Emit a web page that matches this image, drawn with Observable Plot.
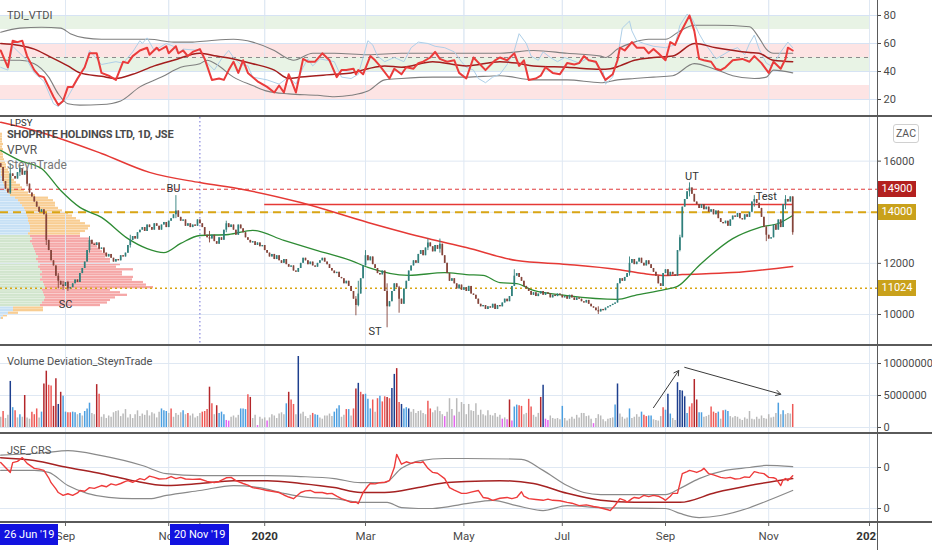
<!DOCTYPE html>
<html>
<head>
<meta charset="utf-8">
<script src="https://cdn.jsdelivr.net/npm/d3@7"></script>
<script src="https://cdn.jsdelivr.net/npm/@observablehq/plot@0.6"></script>
<style>
  html,body{margin:0;padding:0;background:#fff;}
  #chart{position:relative;width:932px;height:550px;overflow:hidden;background:#fff;font-family:Roboto,"DejaVu Sans",sans-serif;}
  #chart svg{position:absolute;left:0;}
  .t{position:absolute;white-space:nowrap;line-height:1;}
  .ln{position:absolute;background:#5a5a5a;}
  .box{position:absolute;color:#fff;font-size:11px;text-align:center;white-space:nowrap;}
</style>
</head>
<body>
<div id="chart"></div>
<script>
// ---------------- DATA ----------------
const startDate = "2019-07-23";
const calendarEnd = "2021-01-29";
const holidays = ["2019-08-09","2019-09-24","2019-12-16","2019-12-25","2019-12-26","2020-01-01","2020-04-10","2020-04-13","2020-04-27","2020-05-01","2020-06-16","2020-08-10","2020-09-24","2020-12-16","2020-12-25","2021-01-01"];
const tickMonths = ["2019-09","2019-11","2020-01","2020-03","2020-05","2020-07","2020-09","2020-11","2021-01"];
const tickLabels = ["Sep","Nov","2020","Mar","May","Jul","Sep","Nov","2021"];
const crosshairDate = "2019-11-20";
const crosshairLabel = "20 Nov '19";
const rangeStartLabel = "26 Jun '19";

const firstOpen = 16000;
const closes = [
15900,15750,15200,14900,14750,15500,15400,15300,15550,15700,
15450,15600,15100,14750,14600,14400,14200,14000,14100,13900,
12900,12500,12100,11900,11500,11300,11150,11100,11250,11000,
11050,11200,11350,11250,11600,11800,12050,12500,12900,12750,
12700,12800,12550,12600,12400,12250,12350,12200,12050,12150,
12100,12300,12250,12400,12700,12900,13050,12950,13200,13300,
13400,13250,13500,13400,13300,13550,13450,13300,13500,13600,
13400,13650,13750,13900,14050,13800,13650,13700,13450,13550,
13400,13500,13450,13700,13550,13400,13100,13000,12950,13100,
12850,12750,13000,12900,13300,13550,13400,13500,13300,13100,
13500,13350,13200,13000,12900,12800,12850,12700,12800,12650,
12700,12500,12400,12250,12350,12150,12300,12100,12000,12150,
11950,11850,11900,11700,11650,11800,12000,12200,12100,11950,
12050,11900,11850,12000,12100,12200,12050,11950,11800,11700,
11600,11650,11450,11400,11200,11300,11100,10900,10600,10350,
10800,11400,11900,12300,12100,12250,11950,11800,11600,11550,
11700,10900,10300,10500,10900,11200,11050,10600,10400,11000,
11300,11700,11900,12100,12000,12350,12500,12300,12600,12800,
12650,12450,12700,12550,12750,12300,12000,11600,11300,11400,
11200,11000,11150,10950,11050,10900,11100,10800,10750,10600,
10400,10300,10350,10200,10300,10250,10400,10200,10350,10300,
10450,10600,10500,10700,11100,11500,11600,11450,11300,11100,
11000,10900,10750,10850,10700,10800,10900,10750,10850,10800,
10650,10750,10700,10800,10750,10650,10700,10600,10750,10650,
10550,10650,10600,10500,10450,10550,10400,10300,10250,10150,
10100,10200,10150,10250,10300,10350,10400,10450,11200,11400,
11300,11450,11600,12000,12150,11950,12050,12200,12000,11900,
12100,11950,11800,11650,11500,11200,11100,11600,11750,11500,
11650,11550,11500,12500,13000,14200,14500,14800,14950,14700,
14400,14300,14150,14300,14100,14200,14000,14100,13900,14050,
13750,13600,13550,13650,13450,13700,13850,13800,13950,13750,
13700,13900,13800,14000,14400,14500,14350,14150,13800,13400,
13100,12950,13000,13500,13300,13700,13400,14300,14500,14400,
14600,13200];
// [bar, low, high] for visible wicks
const wicks = [[0,15700,16150],[5,14700,15900],[9,15400,15850],[12,15000,15700],[20,12700,13950],[25,11000,11600],[27,10950,11300],[29,10900,11300],[38,12400,13050],[55,12600,13100],[74,13750,14650],[88,12800,13250],[95,13200,13650],[149,9950,10700],[150,10300,11300],[153,11900,12500],[162,9480,11200],[167,10050,11100],[179,12500,12950],[184,12400,12950],[215,11100,11750],[250,10000,10300],[263,11500,12250],[284,12450,13100],[288,14600,15150],[315,14200,14650],[320,12850,13450],[328,14100,14650],[331,13100,14600]];
const ma200 = [[1,17520],[15,17200],[43,16300],[63,15560],[84,15160],[102,14890],[126,14380],[154,13600],[179,12970],[195,12620],[216,12110],[237,11960],[258,11760],[269,11600],[278,11530],[285,11560],[306,11640],[331,11880]];
const ma50 = [[1,16420],[9,16020],[18,15710],[26,14850],[34,14190],[43,13800],[54,12970],[62,12580],[69,12420],[76,12780],[84,13090],[96,13130],[106,13290],[119,12900],[133,12500],[147,12110],[154,11840],[171,11530],[186,11640],[195,11560],[202,11530],[209,11250],[216,11210],[223,10940],[237,10740],[258,10590],[265,10740],[278,10980],[283,11100],[292,11920],[306,12970],[317,13400],[326,13600],[331,13870]];
const levelRed = 14900, levelGold = 14000, levelPoc = 11024;
const resistance = {from: 111, to: 331, price: 14300};
const annotations = [{t:"BU",i:73,p:14920},{t:"SC",i:28,p:10390},{t:"ST",i:157,p:9335},{t:"UT",i:289,p:15400},{t:"Test",i:320,p:14620}];
// Volume profile (VPVR): rows of 100 from 9800
const vpStart = 9800, vpStep = 100, vaLow = 10300, vaHigh = 13100;
const vpUp = [1,3,8,13,13,40,42,44,45,44,43,42,45,44,43,40,42,40,42,40,38,40,38,36,38,36,35,34,33,32,30,32,30,28,30,30,30,29,28,28,27,26,25,24,22,20,18,15,10,8,6,5,4,3,2,2,1,1,1,0,0,0,0,0,0,0,0,0,0,0,0,0,0];
const vpDn = [2,4,10,30,30,60,65,66,70,83,77,68,108,102,100,92,91,82,80,93,78,80,72,74,67,71,67,66,64,65,62,58,50,52,55,58,60,56,52,48,45,42,37,34,33,35,35,33,25,20,18,17,16,13,12,10,9,8,7,6,6,5,4,3,3,2,3,2,3,2,2,2,2];

// TDI (bar, value)
const tdiZones = [[70,80,"up"],[50,60,"dn"],[40,50,"up"],[20,30,"dn"]];
const tdiPrice = [[1,55],[4,43],[6,62],[8,61],[10,62],[12,51],[15,41],[17,37],[19,36],[21,29],[23,22],[25,16],[27,19],[29,29],[31,29],[33,35],[36,43],[38,53],[41,53],[43,39],[46,37],[49,34],[52,47],[54,46],[56,51],[59,55],[62,57],[63,52],[66,57],[67,55],[70,58],[71,53],[74,58],[75,53],[77,55],[79,51],[81,54],[84,56],[86,49],[89,34],[92,35],[94,34],[96,41],[98,47],[100,39],[102,48],[104,39],[108,33],[112,29],[115,25],[117,30],[119,25],[121,38],[122,34],[124,25],[127,49],[129,47],[132,47],[135,53],[138,48],[141,36],[143,41],[145,41],[148,42],[149,38],[150,41],[152,38],[155,51],[157,48],[159,44],[163,35],[165,42],[168,38],[170,43],[173,42],[175,46],[177,47],[180,50],[182,54],[184,49],[187,47],[190,48],[192,39],[195,35],[198,50],[203,41],[207,48],[209,50],[212,48],[215,53],[217,44],[219,48],[221,34],[224,35],[226,37],[228,43],[231,39],[234,38],[237,46],[240,45],[242,46],[244,51],[246,48],[249,47],[252,37],[253,34],[256,38],[258,48],[259,57],[261,55],[264,61],[266,57],[269,57],[271,53],[273,56],[275,53],[278,48],[280,61],[282,59],[284,67],[288,80],[290,69],[292,49],[294,48],[297,47],[299,42],[301,41],[303,43],[306,48],[310,49],[313,47],[315,51],[318,46],[321,39],[323,47],[326,42],[328,49],[329,57],[331,55]];
const tdiRsi = [[1,43],[4,41],[6,58],[12,48],[15,39],[19,33],[23,17],[25,15],[29,22],[36,43],[38,55],[43,45],[46,46],[49,47],[52,46],[56,54],[59,62],[60,60],[62,64],[65,55],[70,60],[73,58],[75,53],[77,56],[84,55],[86,48],[90,41],[93,49],[96,55],[98,50],[101,45],[104,44],[106,36],[112,34],[117,31],[121,36],[124,31],[127,43],[129,49],[131,44],[134,49],[140,47],[143,36],[147,35],[150,38],[154,62],[156,59],[158,51],[161,47],[165,50],[169,47],[172,57],[175,61],[179,60],[182,58],[186,57],[190,54],[193,47],[195,43],[198,41],[200,35],[203,32],[206,36],[209,38],[212,45],[215,55],[217,67],[220,60],[222,51],[225,48],[227,54],[230,50],[233,47],[236,50],[239,48],[242,46],[245,49],[249,46],[252,40],[253,31],[256,36],[258,50],[260,71],[263,76],[264,69],[266,62],[269,60],[273,58],[278,57],[282,59],[284,73],[287,81],[289,78],[292,67],[294,61],[297,54],[299,49],[305,55],[308,57],[311,52],[313,60],[315,66],[317,56],[320,46],[322,44],[324,48],[326,54],[329,61],[331,57]];
const tdiUpper = [[1,68],[9,71],[18,71.6],[26,71],[30,67],[36,64],[43,63],[54,63],[63,63],[73,61],[81,61],[88,62],[98,63],[106,61],[115,55],[121,49],[123,48],[131,53],[140,53],[154,52],[168,53],[181,53],[195,53],[209,53],[223,55],[237,53],[251,51],[253,50],[258,56],[265,61],[271,63],[278,63],[284,69],[290,73],[299,73],[313,72],[317,64],[320,56],[323,53],[331,53]];
const tdiLower = [[1,48],[9,48],[15,45.6],[21,36],[25,24],[29,17],[34,16],[43,16.4],[51,19],[59,29],[68,36],[76,43],[84,45.6],[87,48],[91,45],[98,36],[106,30],[112,26],[121,24],[133,23],[140,22],[147,23],[154,26],[161,34],[168,35],[181,36],[195,36],[209,37],[223,34],[237,34],[251,32],[258,34],[265,35],[273,36],[281,37],[290,45.6],[298,42],[306,37],[315,35],[320,36],[323,41],[331,39]];
const tdiMid = [[1,60],[9,58.6],[15,56],[21,51],[29,44],[34,39],[43,36.6],[49,35],[56,38],[65,44],[73,48],[84,53],[91,51],[98,49],[106,45.6],[115,41],[121,35],[126,36],[140,38],[147,39],[154,42],[161,44],[168,43],[181,47],[195,44],[209,47],[216,46],[223,44],[237,43],[251,41.6],[255,42],[259,44],[265,48],[273,50],[281,51],[290,60],[299,57],[313,53.6],[317,53],[323,48],[331,47]];

// Volume deviation (millions) and class per bar
const volume = [
1.8,1.6,2.5,1.4,1.9,7.2,3.1,2.6,1.5,2.0, 1.6,5.0,1.5,1.3,2.4,2.0,2.9,1.5,2.4,6.8,
8.8,6.6,6.5,3.3,7.6,3.6,5.5,4.9,2.4,2.3, 2.3,2.4,2.3,2.0,2.2,1.8,2.5,2.9,3.8,2.2,
2.0,6.7,5.2,1.6,2.0,1.4,1.8,1.6,2.3,2.5, 2.6,1.7,2.1,2.8,1.5,2.0,1.4,2.0,2.6,1.7,
2.1,1.9,2.6,1.8,2.3,2.1,1.5,2.4,2.9,2.6, 2.5,2.2,2.9,1.6,2.2,1.9,2.3,2.6,2.0,2.2,
1.8,2.1,1.5,1.7,2.2,2.4,2.5,2.8,6.3,3.7, 2.0,3.4,2.2,2.4,2.0,1.1,1.0,1.6,1.8,1.5,
1.9,2.9,2.9,2.8,5.1,4.7,1.4,1.9,0.3,1.6, 1.3,1.5,1.0,1.5,2.0,1.8,1.4,2.1,2.3,2.0,
3.7,5.5,4.3,3.6,2.0,11.1,2.1,2.4,1.7,1.4, 1.9,2.2,2.0,1.9,1.5,1.3,1.8,1.8,2.1,1.7,
2.4,2.9,3.4,1.6,1.9,2.8,2.8,1.8,2.9,6.0, 6.9,5.5,5.1,5.2,4.4,2.9,4.3,2.4,4.5,4.9,
4.0,4.8,4.7,4.5,6.1,8.3,9.2,3.9,3.6,2.9, 3.1,2.9,2.4,2.8,2.2,2.5,2.6,2.2,2.0,4.1,
2.9,2.3,2.6,3.2,2.5,2.0,1.7,2.4,4.5,2.8, 1.8,4.5,2.4,3.9,3.6,2.0,3.6,2.6,2.5,3.7,
1.9,2.7,2.0,1.8,2.6,1.9,1.8,2.2,1.6,1.9, 1.3,1.5,1.2,4.3,1.0,3.2,3.5,3.4,3.3,2.0,
2.2,4.4,3.2,1.9,1.6,2.2,4.7,6.6,1.3,1.1, 1.8,1.4,1.3,1.4,1.2,3.3,1.4,1.0,1.3,1.6,
1.3,1.9,1.5,2.2,2.2,1.7,1.8,1.3,0.6,1.4, 2.0,1.8,1.2,0.9,1.3,1.4,1.5,3.5,6.8,2.1,
1.6,1.3,1.5,2.9,1.4,1.6,2.0,1.6,2.4,1.9, 1.7,1.8,1.8,1.2,1.1,1.0,1.7,3.1,2.7,5.2,
2.1,1.4,1.1,7.0,5.8,5.7,4.8,2.2,3.2,3.7, 7.5,4.3,2.3,2.3,1.6,1.7,1.9,3.2,2.4,2.2,
2.4,1.3,2.6,2.7,2.5,1.7,1.5,1.7,1.6,1.3, 1.1,1.5,1.3,2.5,1.3,1.2,1.6,1.3,1.8,1.4,
1.3,2.0,1.5,1.6,2.2,3.8,2.0,2.6,2.0,2.2, 2.1,3.6];
// g normal, b up, B strong up, r down, R strong down, m low
const volumeClass = ["ggrggBbrgb","gRggrrrgbR","RrrRRBRbbr","rbbgbgbbbg","gRrggggggg","gggggggggg","ggggggggbb","bgrggggbgr","gggggrrrRr","gRbbbmmggg","gbbbrRggmg","ggmggggggg","bRrrgBgggg","grbbgggggg","bbbggrbgrR","BrRbbbrgrb","rrRrBBRrBb","bBgggggggr","rgggggmggg","mggggggggg","gggggggggg","mgmRmbbrrg","grrgggRBmm","gggggbgggg","ggggggggmg","gggggggbBg","gggbggggbr","rbbggggrbB","bggBBBBbrr","RRbbgggrrr","bgrbbggggg","gggggggggg","gggggbgbgg","gr"];
const volArrows = [[273,3.1,283.5,8.9],[286,9.4,326,5.2]];

// JSE_CRS (bar, value)
const crsLine = [[1,1.12],[3,1.0],[5,0.88],[6,1.12],[8,1.15],[10,1.24],[12,1.1],[15,0.98],[17,0.96],[19,0.93],[21,0.75],[22,0.63],[24,0.48],[25,0.39],[27,0.32],[29,0.36],[31,0.32],[33,0.38],[34,0.44],[36,0.42],[38,0.51],[40,0.49],[43,0.56],[45,0.53],[47,0.6],[49,0.57],[51,0.61],[53,0.66],[54,0.68],[56,0.64],[59,0.73],[61,0.7],[63,0.79],[65,0.76],[67,0.72],[70,0.73],[72,0.78],[74,0.73],[76,0.76],[78,0.72],[81,0.71],[84,0.72],[87,0.66],[90,0.63],[92,0.66],[95,0.75],[97,0.76],[99,0.68],[102,0.61],[104,0.57],[106,0.51],[109,0.48],[112,0.44],[114,0.42],[117,0.39],[119,0.33],[121,0.28],[123,0.24],[126,0.39],[128,0.43],[130,0.44],[132,0.39],[135,0.39],[137,0.36],[139,0.37],[141,0.3],[143,0.24],[145,0.2],[147,0.15],[149,0.16],[150,0.12],[152,0.39],[154,0.55],[155,0.61],[157,0.6],[159,0.63],[161,0.64],[163,0.68],[165,1.0],[166,1.32],[167,1.2],[168,1.08],[170,1.14],[172,1.1],[174,1.13],[176,1.12],[177,1.14],[179,0.98],[181,0.88],[183,0.86],[186,0.73],[188,0.51],[190,0.45],[193,0.37],[195,0.37],[197,0.4],[200,0.44],[202,0.27],[204,0.25],[206,0.2],[209,0.25],[212,0.27],[214,0.24],[216,0.27],[218,0.41],[219,0.3],[221,0.24],[224,0.22],[227,0.2],[229,0.23],[231,0.2],[234,0.19],[237,0.15],[239,0.13],[242,0.07],[245,0.09],[248,0.05],[250,0.03],[252,0],[254,-0.03],[255,-0.05],[257,0.08],[259,0.24],[261,0.2],[262,0.15],[264,0.24],[265,0.27],[267,0.25],[269,0.32],[271,0.29],[273,0.32],[275,0.3],[277,0.24],[278,0.2],[280,0.3],[281,0.37],[283,0.37],[285,0.85],[287,0.9],[288,0.93],[290,0.9],[291,0.88],[293,0.93],[294,0.98],[296,0.85],[298,0.82],[301,0.76],[303,0.74],[305,0.76],[307,0.72],[309,0.73],[311,0.77],[313,0.76],[315,0.9],[317,0.87],[319,0.85],[321,0.76],[323,0.75],[324,0.73],[326,0.56],[327,0.7],[328,0.73],[329,0.68],[331,0.8]];
const crsUpper = [[1,1.3],[19,1.36],[29,1.41],[43,1.29],[60,1.05],[70,0.85],[84,0.8],[112,0.8],[126,0.78],[140,0.73],[151,0.63],[161,0.63],[168,0.98],[176,1.17],[186,1.22],[195,1.22],[218,1.2],[227,0.93],[237,0.56],[244,0.39],[251,0.34],[278,0.34],[284,0.49],[292,0.73],[303,0.93],[313,1.0],[320,1.05],[331,1.02]];
const crsLower = [[1,0.93],[15,0.93],[21,0.88],[29,0.56],[37,0.37],[46,0.27],[56,0.24],[63,0.24],[70,0.32],[84,0.44],[98,0.56],[109,0.51],[119,0.37],[129,0.27],[140,0.24],[151,0.15],[162,0.15],[168,0.02],[175,0],[181,0],[195,0.12],[206,0.2],[216,0.07],[227,-0.05],[237,0.07],[251,0.02],[278,0],[284,-0.12],[292,-0.22],[301,-0.17],[313,0.02],[321,0.2],[331,0.44]];
const crsMid = [[1,1.24],[15,1.17],[29,1.0],[43,0.85],[56,0.68],[70,0.56],[84,0.61],[98,0.68],[112,0.68],[126,0.61],[140,0.51],[151,0.39],[161,0.39],[175,0.51],[186,0.63],[195,0.66],[209,0.68],[223,0.61],[237,0.37],[251,0.2],[265,0.15],[284,0.15],[299,0.39],[313,0.56],[331,0.73]];

// ---------------- BUILD ----------------
const chart = document.getElementById("chart");
const GRID = "#dfe8f3";
const TEXT = "#4a4a4a";
const FONT = "Roboto, sans-serif";
const X0 = 0.92, X1 = 366.33;

const dates = [];
{
  const hol = new Set(holidays);
  let t = Date.parse(startDate + "T00:00:00Z");
  const end = Date.parse(calendarEnd + "T00:00:00Z");
  while (t <= end) {
    const d = new Date(t), wd = d.getUTCDay(), s = d.toISOString().slice(0, 10);
    if (wd !== 0 && wd !== 6 && !hol.has(s)) dates.push(s);
    t += 86400000;
  }
}
const tickIdx = tickMonths.map(m => dates.findIndex(s => s.startsWith(m)));
const ticks = tickIdx.map((i, k) => ({i, label: tickLabels[k], year: /^\d{4}$/.test(tickLabels[k])}));
const crossIdx = dates.indexOf(crosshairDate);
const bandEnd = tickIdx[tickIdx.length - 1];

function pane(top, height, yDomain, yTicks, yFmt, marks, gridTicks = yTicks) {
  const svg = Plot.plot({
    width: 932, height, marginLeft: 0, marginRight: 55, marginTop: 0, marginBottom: 0,
    x: {type: "linear", domain: [X0, X1], axis: null},
    y: {domain: yDomain, axis: "right", ticks: yTicks, tickFormat: yFmt, tickSize: 3, tickPadding: 3, label: null},
    color: {type: "identity"},
    style: {background: "transparent", color: TEXT, fontSize: "11px", fontFamily: FONT, overflow: "visible"},
    marks: [
      Plot.ruleX(tickIdx, {x: d => d, stroke: GRID}),
      Plot.ruleY(gridTicks, {stroke: GRID}),
      ...marks
    ]
  });
  svg.style.top = top + "px";
  chart.appendChild(svg);
  return svg;
}
const P = () => ({x: d => d[0], y: d => d[1]});

// ---- TDI pane ----
const zoneColor = {up: "#e8f3e5", dn: "#fde4e4"};
pane(0, 116, [7.86, 90.71], [20, 40, 60, 80], d => d, [
  Plot.rect(tdiZones, {x1: X0, x2: bandEnd, y1: d => d[0], y2: d => d[1], fill: d => zoneColor[d[2]]}),
  Plot.ruleX(tickIdx, {x: d => d, stroke: GRID}),
  Plot.ruleY([20, 40, 60, 80], {stroke: "#d6e3f4"}),
  Plot.ruleY([50], {x1: X0, x2: bandEnd, stroke: "#8a8a8a", strokeDasharray: "4,4"}),
  Plot.line(tdiUpper, {...P(), stroke: "#7f7f7f", strokeWidth: 1.1, curve: "monotone-x"}),
  Plot.line(tdiLower, {...P(), stroke: "#7f7f7f", strokeWidth: 1.1, curve: "monotone-x"}),
  Plot.line(tdiRsi, {...P(), stroke: "#aecfe8", strokeWidth: 1}),
  Plot.line(tdiMid, {...P(), stroke: "#a31d1d", strokeWidth: 1.5, curve: "monotone-x"}),
  Plot.line(tdiPrice, {...P(), stroke: "#ea3b3b", strokeWidth: 2})
]);

// ---- Price pane ----
const priceDomain = [8787, 17707];
const vpRows = vpUp.map((u, k) => {
  const p0 = vpStart + k * vpStep, inVA = p0 >= vaLow && p0 < vaHigh;
  return {p0, p1: p0 + vpStep, u, t: u + vpDn[k], inVA};
});
// volume profile overlay (own x scale, same price scale)
const vp = Plot.plot({
  width: 932, height: 228, marginLeft: 0, marginRight: 55, marginTop: 0, marginBottom: 0,
  x: {domain: [0, 877], axis: null}, y: {domain: priceDomain, axis: null},
  color: {type: "identity"},
  style: {background: "transparent"},
  marks: [
    Plot.rect(vpRows, {x1: 0, x2: "u", y1: "p0", y2: "p1", fill: d => d.inVA ? "#d1e5cd" : "#c6e0f5", insetTop: 0.15, insetBottom: 0.15}),
    Plot.rect(vpRows, {x1: "u", x2: "t", y1: "p0", y2: "p1", fill: d => d.inVA ? "#f5a7a7" : "#f8cd92", insetTop: 0.15, insetBottom: 0.15})
  ]
});
vp.style.top = "117px";
chart.appendChild(vp);

const wickMap = new Map(wicks.map(w => [w[0], w]));
const candles = closes.map((c, i) => {
  const o = i === 0 ? firstOpen : closes[i - 1];
  const w = wickMap.get(i);
  return {i, o, c, lo: w ? w[1] : Math.min(o, c), hi: w ? w[2] : Math.max(o, c), up: c >= o};
});
const UP = "#2f7f7b", DN = "#84443a";
const price = pane(117, 228, priceDomain, [10000, 12000, 16000], d => String(d), [
  Plot.ruleY([levelGold], {stroke: GRID}),
  Plot.ruleX([crossIdx], {x: d => d, stroke: "#6e6ed6", strokeDasharray: "1.5,2.5"}),
  Plot.ruleY([levelRed], {stroke: "#e0393b", strokeDasharray: "4,3"}),
  Plot.ruleY([levelGold], {stroke: "#d9a514", strokeWidth: 2, strokeDasharray: "8,5"}),
  Plot.ruleY([levelPoc], {stroke: "#d9a514", strokeWidth: 1.5, strokeDasharray: "2,3"}),
  Plot.ruleY([resistance], {y: "price", x1: "from", x2: "to", stroke: "#e53935", strokeWidth: 1.5}),
  Plot.line(ma200, {...P(), stroke: "#e53935", strokeWidth: 1.5, curve: "monotone-x"}),
  Plot.line(ma50, {...P(), stroke: "#2e8b34", strokeWidth: 1.3, curve: "monotone-x"}),
  Plot.ruleX(candles, {x: "i", y1: "lo", y2: "hi", stroke: d => d.up ? UP : DN, strokeWidth: 0.9, clip: true}),
  Plot.ruleX(candles, {x: "i", y1: "o", y2: "c", stroke: d => d.up ? UP : DN, strokeWidth: 1.7, clip: true}),
  Plot.text(annotations, {x: "i", y: "p", text: "t", fill: "#333", fontSize: 11})
]);

// ---- Volume pane ----
const volColor = {g: "#bababa", b: "#4c9fe0", B: "#1d3f8e", r: "#ee5a57", R: "#b3262a", m: "#e365ef"};
const vcls = volumeClass.join("").split("");
const vols = volume.map((v, i) => ({i, v, c: vcls[i]}));
pane(346, 87, [-0.94, 12.66], [0, 5, 10], d => String(d * 1000000), [
  Plot.ruleX(vols, {x: "i", y1: 0, y2: "v", stroke: d => volColor[d.c], strokeWidth: 1.5}),
  Plot.arrow(volArrows, {x1: d => d[0], y1: d => d[1], x2: d => d[2], y2: d => d[3], stroke: "#3a3a3a", strokeWidth: 1, headLength: 8})
]);

// ---- CRS pane ----
pane(434, 88, [-0.341, 1.805], [0, 1], () => "0", [
  Plot.line(crsUpper, {...P(), stroke: "#8a8a8a", strokeWidth: 1.2, curve: "monotone-x"}),
  Plot.line(crsLower, {...P(), stroke: "#8a8a8a", strokeWidth: 1.2, curve: "monotone-x"}),
  Plot.line(crsMid, {...P(), stroke: "#a52222", strokeWidth: 1.5, curve: "monotone-x"}),
  Plot.line(crsLine, {...P(), stroke: "#ee3b3b", strokeWidth: 1.4})
]);

// ---- Time axis ----
const axisSvg = Plot.plot({
  width: 932, height: 28, marginLeft: 0, marginRight: 55, marginTop: 0, marginBottom: 0,
  x: {type: "linear", domain: [X0, X1], axis: null}, y: {domain: [0, 28], range: [0, 28], axis: null},
  style: {background: "transparent", color: TEXT, fontFamily: FONT},
  marks: [
    Plot.ruleX(ticks, {x: "i", y1: 0, y2: 4, stroke: "#666"}),
    Plot.ruleX([crossIdx], {x: d => d, y1: 0, y2: 4, stroke: "#666"}),
    Plot.text(ticks.filter(d => !d.year), {x: "i", y: 14, text: "label", fill: TEXT, fontSize: 11.5}),
    Plot.text(ticks.filter(d => d.year), {x: "i", y: 14, text: "label", fill: "#333", fontSize: 11.5, fontWeight: "bold"})
  ]
});
axisSvg.style.top = "522px";
chart.appendChild(axisSvg);

// ---- HTML overlays ----
function el(cls, css, text) {
  const d = document.createElement("div");
  d.className = cls; d.style.cssText = css; if (text != null) d.textContent = text;
  chart.appendChild(d); return d;
}
// cover right strip of time axis
el("", "position:absolute;left:878px;top:523px;width:54px;height:27px;background:#fff;");
// separators
el("ln", "left:0;top:115px;width:932px;height:2px;");
el("ln", "left:0;top:344px;width:932px;height:2px;");
el("ln", "left:0;top:432px;width:932px;height:2px;");
el("ln", "left:0;top:521px;width:932px;height:2px;");
el("ln", "left:877px;top:0;width:1px;height:550px;");

// pane titles
el("t", `left:7px;top:10px;font-size:11px;color:#505050;`, "TDI_VTDI");
el("t", `left:10px;top:117.5px;font-size:9.5px;color:#333;`, "LPSY");
el("t", `left:7px;top:129px;font-size:11px;font-weight:bold;color:#4a4a4a;letter-spacing:-0.2px;`, "SHOPRITE HOLDINGS LTD, 1D, JSE");
el("t", `left:7px;top:144px;font-size:12px;color:#555;`, "VPVR");
el("t", `left:7px;top:159px;font-size:12px;color:#777;`, "SteynTrade");
el("t", `left:7px;top:356px;font-size:11px;color:#505050;`, "Volume Deviation_SteynTrade");
el("t", `left:7px;top:445px;font-size:11px;color:#505050;`, "JSE_CRS");

// price labels
const yP = price.scale("y"), xP = price.scale("x");
[[levelRed, "#b3201f"], [levelGold, "#c9a11b"], [levelPoc, "#c9a11b"]].forEach(([v, col]) => {
  const y = 117 + yP.apply(v);
  el("box", `left:878px;top:${(y - 8).toFixed(1)}px;width:38px;height:16px;line-height:16px;background:${col};`, String(v));
});
el("t", "left:893px;top:124px;width:24px;height:17px;line-height:17px;text-align:center;border:1px solid #d0d0d0;border-radius:3px;font-size:10.5px;color:#555;background:#fff;", "ZAC");

// date labels
el("box", "left:0;top:524px;padding:0 4px;height:21px;line-height:21px;background:#1212e0;", rangeStartLabel);
const cx = xP.apply(crossIdx);
const nb = el("box", `left:${(cx - 27).toFixed(1)}px;top:524px;padding:0 4px;height:21px;line-height:21px;background:#1212e0;`, crosshairLabel);
nb.style.left = (cx - nb.offsetWidth / 2).toFixed(1) + "px";
</script>
</body>
</html>
